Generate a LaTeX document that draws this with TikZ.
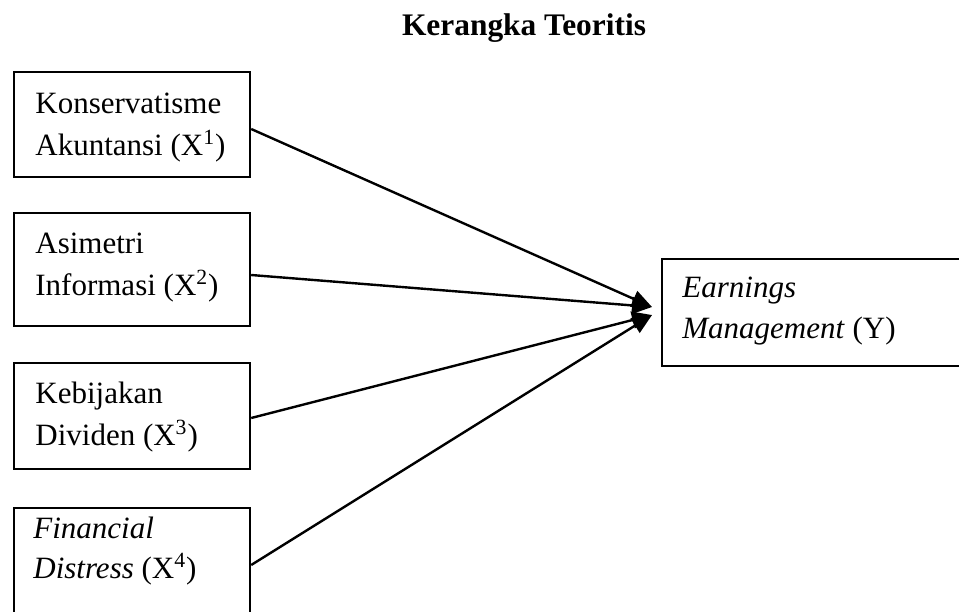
\documentclass[tikz,border=0pt]{standalone}
\usepackage{fontspec}
\setmainfont{Liberation Serif}
\usetikzlibrary{arrows.meta}
\begin{document}
\begin{tikzpicture}[x=0.5pt,y=-0.5pt,
 box/.style={draw, line width=1.2pt, inner sep=0pt, minimum width=118pt},
 lbl/.style={anchor=base west, inner sep=0pt, font=\fontsize{15.5}{21}\selectfont},
 ttl/.style={anchor=base, inner sep=0pt, font=\fontsize{15.7}{21}\selectfont\bfseries},
 conn/.style={line width=1.2pt, -{Triangle[length=10pt,width=8.5pt]}}]
\useasboundingbox (0,0) rectangle (959,611);
\clip (0,0) rectangle (959,611);
\fill[white] (0,0) rectangle (959,611);
\node[ttl] (title) at (524,35) {Kerangka Teoritis};
\node[box, minimum height=52.5pt] (b1) at (132,124.5) {};
\node[box, minimum height=56.5pt] (b2) at (132,269.5) {};
\node[box, minimum height=53pt] (b3) at (132,416) {};
\node[box, minimum height=53.5pt] (b4) at (132,561.5) {};
\node[box, minimum width=164pt, minimum height=53.5pt] (y) at (826,312.5) {};
\node[lbl] (l1a) at (35,113) {Konservatisme};
\node[lbl] (l1b) at (35,155) {Akuntansi (X\textsuperscript{1})};
\node[lbl] (l2a) at (35,253) {Asimetri};
\node[lbl] (l2b) at (35,295) {Informasi (X\textsuperscript{2})};
\node[lbl] (l3a) at (35,403) {Kebijakan};
\node[lbl] (l3b) at (35,445) {Dividen (X\textsuperscript{3})};
\node[lbl] (l4a) at (33,538) {\itshape Financial};
\node[lbl] (l4b) at (33,578) {\textit{Distress} (X\textsuperscript{4})};
\node[lbl] (lya) at (682,297) {\itshape Earnings};
\node[lbl] (lyb) at (682,338) {\textit{Management} (Y)};
\coordinate (t1) at (652,307);
\coordinate (t2) at (652,315);
\draw[conn] ([yshift=-2.25pt]b1.east) -- (t1);
\draw[conn] ([yshift=-2.75pt]b2.east) -- (t1);
\draw[conn] ([yshift=-1pt]b3.east) -- (t2);
\draw[conn] ([yshift=-1.75pt]b4.east) -- (t2);
\end{tikzpicture}
\end{document}
